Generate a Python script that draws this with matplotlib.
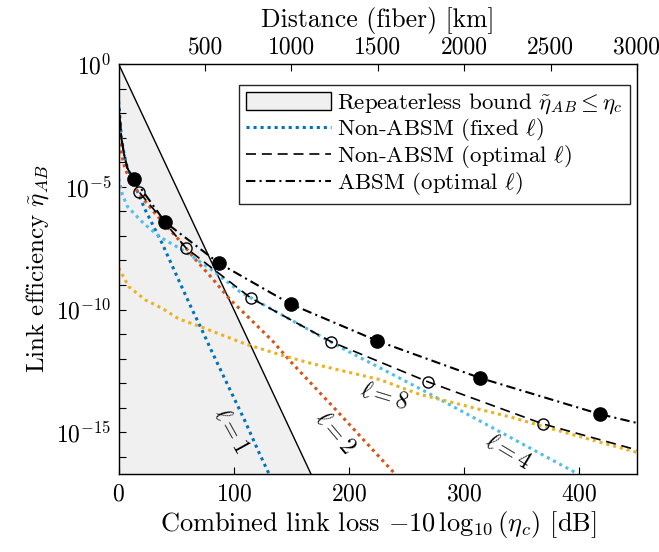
import numpy as np
import matplotlib
matplotlib.use("Agg")
import matplotlib.pyplot as plt
from matplotlib.patches import Patch
from matplotlib.lines import Line2D

plt.rcParams["font.family"] = "serif"
plt.rcParams["font.serif"] = ["cmr10"]
plt.rcParams["mathtext.fontset"] = "cm"
plt.rcParams["axes.formatter.use_mathtext"] = True

# ---- data (loss in dB, log10 of efficiency) ----
bound_loss = [0.0, 170.0]
bound_eta = [1.0, 1e-17]

l1_loss = [0, 1.3, 2.4, 4.8, 7.6, 13.4, 17.7, 23.2, 37.7, 52.1, 63.6, 72.3, 81.0, 95.4, 109.8, 121.4, 130.6]
l1_log = [-1.52, -2.33, -3.01, -3.69, -4.24, -4.85, -5.35, -5.95, -7.3, -8.8, -9.98, -10.83, -11.72, -13.14, -14.55, -15.78, -16.70]

l2_loss = [0, 1.3, 3.3, 5.4, 10.0, 17.5, 31.9, 52.1, 66.5, 81.0, 96.5, 115.6, 134.0, 148.5, 167.5, 188.9, 239.4]
l2_log = [-2.67, -3.29, -3.83, -4.24, -4.75, -5.27, -6.1, -7.15, -7.95, -8.72, -9.58, -10.45, -11.3, -12.08, -13.03, -14.1, -16.67]

l4_loss = [0, 3.3, 7.6, 14.0, 21.6, 36.0, 57.8, 81.0, 105.2, 191.8, 261.0, 318.8, 398.9]
l4_log = [-4.66, -5.32, -5.8, -6.12, -6.49, -7.05, -7.64, -8.39, -9.27, -11.52, -13.21, -14.67, -16.70]

l8_loss = [0, 8.8, 23.2, 37.7, 52.1, 72.3, 81.0, 111.0, 144.4, 167.5, 226.4, 261.0, 341.8, 368.4, 450.0]
l8_log = [-8.3, -9.07, -9.61, -9.95, -10.38, -10.72, -10.88, -11.42, -11.9, -12.2, -12.85, -13.45, -14.4, -14.76, -15.82]

opt_loss = [0, 1.3, 2.4, 4.8, 7.6, 13.4, 17.7, 40.3, 58.4, 114.7, 184.8, 268.8, 368.4, 450.0]
opt_log = [-1.52, -2.33, -3.01, -3.69, -4.24, -4.72, -5.21, -6.47, -7.49, -9.53, -11.32, -12.95, -14.66, -15.72]
opt_mk_loss = [17.7, 58.4, 114.7, 184.8, 268.8, 368.4]
opt_mk_log = [-5.21, -7.49, -9.53, -11.32, -12.95, -14.66]

absm_loss = [0, 1.3, 2.4, 4.8, 7.6, 13.4, 40.3, 87.0, 149.4, 224.7, 313.9, 417.7, 450.0]
absm_log = [-1.52, -2.33, -3.01, -3.69, -4.24, -4.68, -6.44, -8.11, -9.78, -11.28, -12.79, -14.26, -14.62]
absm_mk_loss = [13.4, 40.3, 87.0, 149.4, 224.7, 313.9, 417.7]
absm_mk_log = [-4.68, -6.44, -8.11, -9.78, -11.28, -12.79, -14.26]

km_ticks = [500, 1000, 1500, 2000, 2500, 3000]
db_per_km = 0.15

fixed = [
    (l1_loss, l1_log, "#0072BD"),
    (l2_loss, l2_log, "#D95319"),
    (l4_loss, l4_log, "#4DBEEE"),
    (l8_loss, l8_log, "#EDB120"),
]
ell_labels = [("$\\ell = 1$", 97.0, -14.94, -61),
              ("$\\ell = 2$", 187.9, -15.04, -50),
              ("$\\ell = 8$", 230.4, -13.55, -17),
              ("$\\ell = 4$", 338.3, -15.79, -31)]

ymin, ymax = 2e-17, 1.0
dots = (0, (1, 1.3))
dash = (0, (6, 3.5))
dashdot = (0, (4.5, 2, 1, 2))

fig = plt.figure(figsize=(6.59, 5.52), dpi=100)
ax = fig.add_axes([0.18, 0.1413, 0.7866, 0.7428])

ax.fill_between(bound_loss, ymin, bound_eta, color="#f0f0f0", lw=0, zorder=0)
ax.plot(bound_loss, bound_eta, color="k", lw=1.0, zorder=1)

for x, lg, c in fixed:
    ax.plot(x, 10.0 ** np.array(lg), color=c, ls=dots, lw=2.2, zorder=2)

ax.plot(opt_loss, 10.0 ** np.array(opt_log), color="k", ls=dash, lw=1.2, zorder=3)
ax.plot(opt_mk_loss, 10.0 ** np.array(opt_mk_log), ls="none", marker="o", ms=8,
        mfc="none", mec="k", mew=1.0, zorder=4)
ax.plot(absm_loss, 10.0 ** np.array(absm_log), color="k", ls=dashdot, lw=1.5, zorder=3)
ax.plot(absm_mk_loss, 10.0 ** np.array(absm_mk_log), ls="none", marker="o", ms=9.5,
        mfc="k", mec="k", zorder=4)

for txt, x, lg, rot in ell_labels:
    ax.text(x, 10.0 ** lg, txt, fontsize=17, rotation=rot, rotation_mode="anchor",
            ha="center", va="center")

ax.set_yscale("log")
ax.set_xlim(0, 450)
ax.set_ylim(ymin, ymax)
ax.set_yticks([10.0 ** -k for k in range(0, 17)])
ax.set_yticklabels(["$10^{%d}$" % -k if k % 5 == 0 else "" for k in range(0, 17)])
ax.yaxis.set_minor_locator(matplotlib.ticker.NullLocator())
ax.set_xticks([0, 100, 200, 300, 400])
ax.tick_params(direction="in", length=5, width=0.8, labelsize=17, top=False, right=False)
ax.tick_params(axis="x", pad=7)
ax.tick_params(axis="y", pad=5)
for s in ax.spines.values():
    s.set_linewidth(1.0)
    s.set_color("#262626")

ax.set_xlabel("Combined link loss $-10\\,\\log_{10}(\\eta_c)$ [dB]", fontsize=19, labelpad=2)
ax.set_ylabel("Link efficiency $\\tilde{\\eta}_{AB}$", fontsize=18, labelpad=4)

top = ax.twiny()
top.set_xlim(0, 450)
top.set_xticks([k * db_per_km for k in km_ticks])
top.set_xticklabels([str(k) for k in km_ticks])
top.tick_params(direction="in", length=5, width=0.8, labelsize=17, pad=4)
top.set_xlabel("Distance (fiber) [km]", fontsize=18.5, labelpad=7)

handles = [
    Patch(facecolor="#f0f0f0", edgecolor="k", lw=1.0),
    Line2D([], [], color="#0072BD", ls=dots, lw=2.2),
    Line2D([], [], color="k", ls=dash, lw=1.2),
    Line2D([], [], color="k", ls=dashdot, lw=1.5),
]
labels = ["Repeaterless bound $\\tilde{\\eta}_{AB} \\leq \\eta_c$",
          "Non-ABSM (fixed $\\ell$)",
          "Non-ABSM (optimal $\\ell$)",
          "ABSM (optimal $\\ell$)"]
leg = ax.legend(handles, labels, loc="upper right", bbox_to_anchor=(0.9865, 0.9488),
                borderaxespad=0, fontsize=16.5, handlelength=3.7, handleheight=0.85,
                handletextpad=0.3, labelspacing=0.0, borderpad=0.3,
                fancybox=False, framealpha=1, edgecolor="#262626")
leg.get_frame().set_linewidth(1.0)

fig.savefig("out.png", dpi=100)
